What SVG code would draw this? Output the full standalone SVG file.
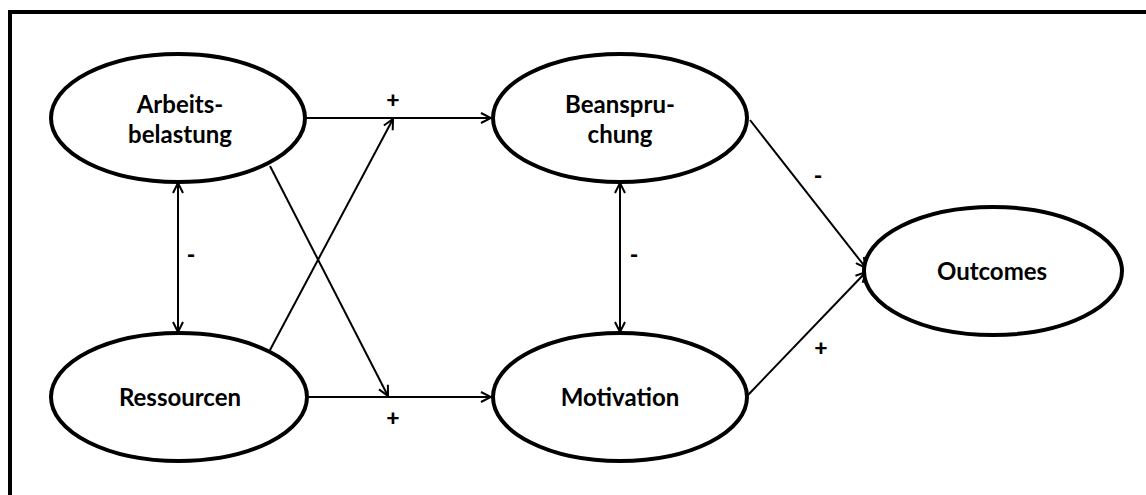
<svg xmlns="http://www.w3.org/2000/svg" width="1146" height="495" viewBox="0 0 1146 495">
  <defs>
    <marker id="open" viewBox="0 0 12 12" refX="11" refY="6" markerWidth="12" markerHeight="12" markerUnits="userSpaceOnUse" orient="auto-start-reverse">
      <path d="M1,1 L11,6 L1,11" fill="none" stroke="#000" stroke-width="2"/>
    </marker>
    <style>
      .node { fill: #fff; stroke: #000; stroke-width: 4; }
      .label { font-family: Lato, "Liberation Sans", sans-serif; font-weight: bold; font-size: 24px; fill: #000; text-anchor: middle; }
      .edge { fill: none; stroke: #000; stroke-width: 2; }
      .sign { font-family: Lato, "Liberation Sans", sans-serif; font-weight: 900; font-size: 23px; fill: #000; text-anchor: middle; }
      .frame { fill: none; stroke: #000; stroke-width: 4; }
    </style>
  </defs>
  <rect width="1146" height="495" fill="#fff"/>
  <!-- frame: top and left edges -->
  <path class="frame" d="M10,495 L10,12 L1146,12"/>

  <g id="connectors">
    <path class="edge" d="M305,118 L491,118" marker-end="url(#open)"/>
    <path class="edge" d="M270,350 L393,119" marker-end="url(#open)"/>
    <path class="edge" d="M270,166 L388,396" marker-end="url(#open)"/>
    <path class="edge" d="M308,397 L491,397" marker-end="url(#open)"/>
    <path class="edge" d="M178,183 L178,332" marker-start="url(#open)" marker-end="url(#open)"/>
    <path class="edge" d="M620,183 L620,332" marker-start="url(#open)" marker-end="url(#open)"/>
    <path class="edge" d="M750,120 L866,268" marker-end="url(#open)"/>
    <path class="edge" d="M748,395 L866,272" marker-end="url(#open)"/>
    <text class="sign" x="393" y="108">+</text>
    <text class="sign" x="393" y="426">+</text>
    <text class="sign" x="191" y="263">-</text>
    <text class="sign" x="634" y="263">-</text>
    <text class="sign" x="818" y="184">-</text>
    <text class="sign" x="821" y="356">+</text>
  </g>

  <g id="arbeitsbelastung">
    <ellipse class="node" cx="178" cy="118" rx="127" ry="64"/>
    <text class="label" x="180" y="113">Arbeits-</text>
    <text class="label" x="180" y="143">belastung</text>
  </g>
  <g id="ressourcen">
    <ellipse class="node" cx="179" cy="397" rx="128" ry="64"/>
    <text class="label" x="180" y="406">Ressourcen</text>
  </g>
  <g id="beanspruchung">
    <ellipse class="node" cx="620" cy="118" rx="127" ry="64"/>
    <text class="label" x="620" y="113">Beanspru-</text>
    <text class="label" x="620" y="143">chung</text>
  </g>
  <g id="motivation">
    <ellipse class="node" cx="620" cy="397" rx="127" ry="64"/>
    <text class="label" x="620" y="406">Motivation</text>
  </g>
  <g id="outcomes">
    <ellipse class="node" cx="993" cy="271" rx="129" ry="64"/>
    <text class="label" x="992" y="280">Outcomes</text>
  </g>
</svg>
